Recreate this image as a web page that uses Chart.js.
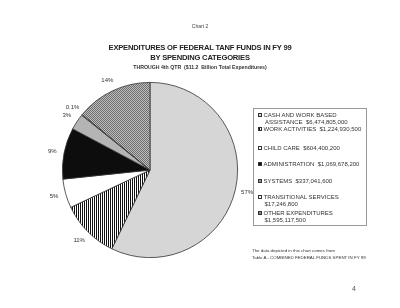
<!DOCTYPE html>
<html>
<head>
<meta charset="utf-8">
<script src="https://cdn.jsdelivr.net/npm/chart.js@4/dist/chart.umd.min.js"></script>
<style>
  html, body { margin: 0; padding: 0; background: #fff; }
  body { width: 400px; height: 308px; position: relative; overflow: hidden; font-family: "Liberation Sans", Arial, sans-serif; color: #222; }
  #wrap { position: absolute; left: 0; top: 0; width: 400px; height: 308px; }
  .txt { position: absolute; white-space: nowrap; }
  #chartno { left: 0; width: 400px; top: 23px; text-align: center; font-size: 5px; color: #444; }
  #title { left: 0; width: 400px; top: 43px; text-align: center; font-size: 7.6px; font-weight: bold; line-height: 9.5px; letter-spacing: -0.2px; }
  #sub { left: 0; width: 400px; top: 64px; text-align: center; font-size: 5.2px; font-weight: bold; color: #333; }
  #legend { position: absolute; left: 253px; top: 108px; width: 114px; height: 118px; border: 1px solid #999; box-sizing: border-box; background: #fff; }
  .item { position: absolute; left: 4px; font-size: 6px; line-height: 6.8px; color: #333; }
  .sw { display: inline-block; width: 4px; height: 4px; border: 0.8px solid #333; margin-right: 1.5px; vertical-align: 0px; box-sizing: border-box; }
  #note { left: 252px; top: 248px; font-size: 4.4px; line-height: 6.5px; color: #333; }
  #pg { left: 352px; top: 285px; font-size: 7px; color: #555; }
</style>
</head>
<body>
<div id="wrap"><canvas id="pie" width="400" height="308"></canvas></div>
<div class="txt" id="chartno">Chart 2</div>
<div class="txt" id="title">EXPENDITURES OF FEDERAL TANF FUNDS IN FY 99<br>BY SPENDING CATEGORIES</div>
<div class="txt" id="sub">THROUGH 4th QTR&nbsp; ($11.2&nbsp; Billion Total Expenditures)</div>
<div id="legend"></div>
<div class="txt" id="note">The data depicted in this chart comes from<br>Table A - COMBINED FEDERAL FUNDS SPENT IN FY 99</div>
<div class="txt" id="pg">4</div>
<script>
const categories = ['CASH AND WORK BASED ASSISTANCE', 'WORK ACTIVITIES', 'CHILD CARE', 'ADMINISTRATION', 'SYSTEMS', 'TRANSITIONAL SERVICES', 'OTHER EXPENDITURES'];
const amounts = [6474805000, 1224930500, 604400200, 1069678200, 337041600, 17246800, 1595117500];
const pctLabels = ['57%', '11%', '5%', '9%', '3%', '0.1%', '14%'];
// legend text lines (wrapped like the original)
const legendLines = [
  ['CASH AND WORK BASED', 'ASSISTANCE&nbsp; $6,474,805,000'],
  ['WORK ACTIVITIES&nbsp; $1,224,930,500'],
  ['CHILD CARE&nbsp; $604,400,200'],
  ['ADMINISTRATION&nbsp; $1,069,678,200'],
  ['SYSTEMS&nbsp; $337,041,600'],
  ['TRANSITIONAL SERVICES', '$17,246,800'],
  ['OTHER EXPENDITURES', '$1,595,117,500']
];
const legendTops = [3, 17, 36, 52, 69, 85, 101];

const mkPattern = (w, h, draw) => {
  const c = document.createElement('canvas');
  c.width = w; c.height = h;
  const g = c.getContext('2d');
  draw(g);
  return document.getElementById('pie').getContext('2d').createPattern(c, 'repeat');
};

const fills = [
  '#d6d6d6',
  mkPattern(2, 2, g => { g.fillStyle = '#fff'; g.fillRect(0, 0, 2, 2); g.fillStyle = '#111'; g.fillRect(0, 0, 1, 2); }),
  '#ffffff',
  '#0d0d0d',
  '#b4b4b4',
  '#f4f4f4',
  mkPattern(2, 2, g => { g.fillStyle = '#bdbdbd'; g.fillRect(0, 0, 2, 2); g.fillStyle = '#6e6e6e'; g.fillRect(0, 0, 1, 1); g.fillRect(1, 1, 1, 1); })
];
const swatchCss = ['#d6d6d6', 'repeating-linear-gradient(90deg,#111 0 1px,#fff 1px 2px)', '#fff', '#0d0d0d', '#999', '#f4f4f4', '#888'];

const pctPlugin = {
  id: 'pctLabels',
  afterDatasetsDraw(chart) {
    const ctx = chart.ctx;
    const meta = chart.getDatasetMeta(0);
    ctx.save();
    ctx.font = '6px "Liberation Sans", Arial, sans-serif';
    ctx.fillStyle = '#333';
    ctx.textAlign = 'center';
    ctx.textBaseline = 'middle';
    meta.data.forEach((arc, i) => {
      const p = arc.getProps(['x', 'y', 'startAngle', 'endAngle', 'outerRadius'], true);
      const a = (p.startAngle + p.endAngle) / 2;
      const r = p.outerRadius + 12;
      ctx.fillText(pctLabels[i], p.x + Math.cos(a) * r, p.y + Math.sin(a) * r);
    });
    ctx.restore();
  }
};

new Chart(document.getElementById('pie'), {
  type: 'pie',
  data: {
    labels: categories,
    datasets: [{
      data: amounts,
      backgroundColor: fills,
      borderColor: '#333',
      borderWidth: 0.8
    }]
  },
  options: {
    responsive: false,
    animation: false,
    layout: { padding: { left: 62, right: 162, top: 82, bottom: 50 } },
    plugins: { legend: { display: false }, tooltip: { enabled: false } }
  },
  plugins: [pctPlugin]
});

document.getElementById('legend').innerHTML = legendLines.map((lines, i) =>
  `<div class="item" style="top:${legendTops[i]}px"><span class="sw" style="background:${swatchCss[i]}"></span>${lines[0]}${lines[1] ? `<br><span style="padding-left:${i === 0 ? 7 : 6.5}px">${lines[1]}</span>` : ''}</div>`
).join('');
</script>
</body>
</html>
